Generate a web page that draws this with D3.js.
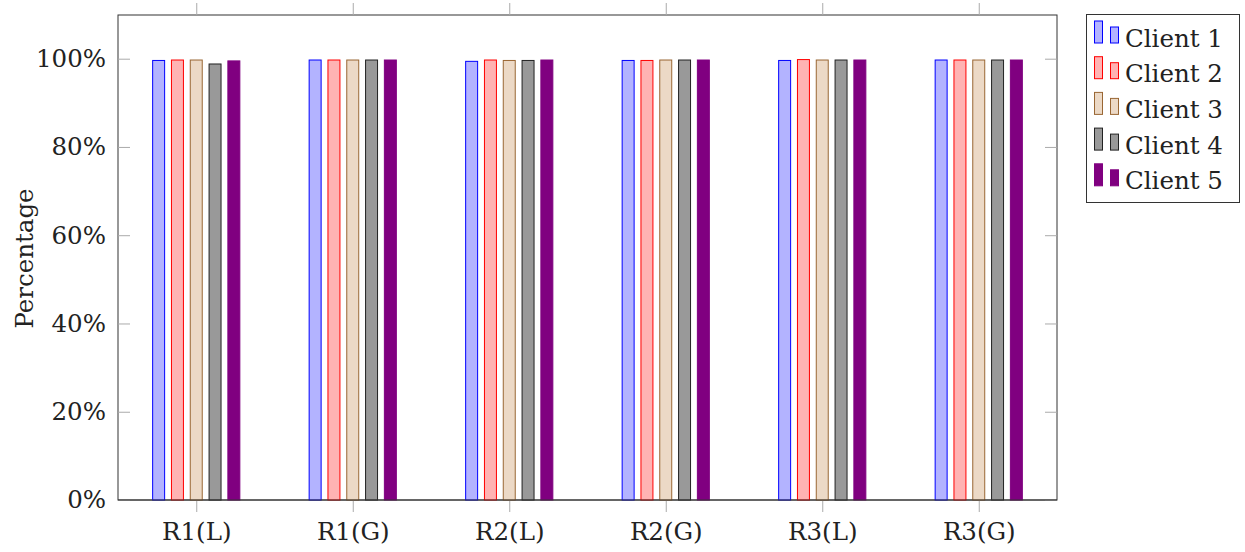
<!DOCTYPE html>
<html>
<head>
<meta charset="utf-8">
<script src="https://cdn.jsdelivr.net/npm/d3@7"></script>
<style>
  html, body { margin: 0; padding: 0; background: #fff; }
  svg { display: block; }
  text { font-family: "DejaVu Serif", "Liberation Serif", serif; fill: #222; }
</style>
</head>
<body>
<svg id="chart" width="1245" height="552"></svg>
<script>
// Rounds (x categories)
const rounds = ["R1(L)", "R1(G)", "R2(L)", "R2(G)", "R3(L)", "R3(G)"];
// Clients (series)
const clients = ["Client 1", "Client 2", "Client 3", "Client 4", "Client 5"];
// Percentage per client, one value per round
const client1 = [99.6, 99.7, 99.4, 99.6, 99.6, 99.7];
const client2 = [99.7, 99.7, 99.7, 99.6, 99.8, 99.7];
const client3 = [99.7, 99.7, 99.6, 99.7, 99.7, 99.7];
const client4 = [98.8, 99.7, 99.6, 99.7, 99.7, 99.7];
const client5 = [99.5, 99.7, 99.7, 99.7, 99.7, 99.7];
const yTicks = [0, 20, 40, 60, 80, 100];

const series = [client1, client2, client3, client4, client5];
const fills   = ["#b3b3ff", "#ffb3b3", "#ecd9c6", "#999999", "#800080"];
const strokes = ["#0000ff", "#ff0000", "#996633", "#222222", "#800080"];

const FONT = '"DejaVu Serif", "Liberation Serif", serif';
const FS = 24.5;

const svg = d3.select("#chart");
const plotL = 118, plotR = 1057, plotT = 15, plotB = 500;

const x = d3.scalePoint().domain(rounds).range([plotL, plotR]).padding(0.5);
const inner = d3.scaleBand().domain(clients).range([-44.1, 44.1]).paddingInner(0.31).paddingOuter(0);
const y = d3.scaleLinear().domain([0, 109.9]).range([plotB, plotT]);

// Frame
svg.append("rect")
  .attr("x", plotL).attr("y", plotT)
  .attr("width", plotR - plotL).attr("height", plotB - plotT)
  .attr("fill", "none").attr("stroke", "#333").attr("stroke-width", 1);

// Y ticks (inside, both sides)
const yAxisL = d3.axisLeft(y).tickValues(yTicks).tickSize(-12).tickPadding(12).tickFormat(d => d + "%");
const gy = svg.append("g").attr("transform", `translate(${plotL},0)`).call(yAxisL);
gy.attr("font-family", FONT).attr("font-size", FS);
gy.select(".domain").remove();
gy.selectAll(".tick line").attr("stroke", "#aaa");
gy.selectAll(".tick text").attr("fill", "#222");

const yAxisR = d3.axisRight(y).tickValues(yTicks).tickSize(-12).tickFormat("");
const gyr = svg.append("g").attr("transform", `translate(${plotR},0)`).call(yAxisR);
gyr.select(".domain").remove();
gyr.selectAll(".tick line").attr("stroke", "#aaa");

// X ticks (outside, top and bottom)
const xAxisB = d3.axisBottom(x).tickSize(12).tickPadding(11);
const gx = svg.append("g").attr("transform", `translate(0,${plotB})`).call(xAxisB);
gx.attr("font-family", FONT).attr("font-size", FS);
gx.select(".domain").remove();
gx.selectAll(".tick line").attr("stroke", "#aaa");
gx.selectAll(".tick text").attr("fill", "#222");

const xAxisT = d3.axisTop(x).tickSize(12).tickFormat("");
const gxt = svg.append("g").attr("transform", `translate(0,${plotT})`).call(xAxisT);
gxt.select(".domain").remove();
gxt.selectAll(".tick line").attr("stroke", "#aaa");

// Bars
const data = [];
rounds.forEach((r, i) => clients.forEach((c, j) => data.push({ r, c, j, v: series[j][i] })));
svg.append("g").selectAll("rect").data(data).join("rect")
  .attr("x", d => x(d.r) + inner(d.c) + 0.5)
  .attr("y", d => y(d.v))
  .attr("width", inner.bandwidth() - 1)
  .attr("height", d => y(0) - y(d.v))
  .attr("fill", d => fills[d.j])
  .attr("stroke", d => strokes[d.j])
  .attr("stroke-width", 1);

// Bottom axis line drawn over the bars
svg.append("line").attr("x1", plotL).attr("x2", plotR).attr("y1", plotB).attr("y2", plotB)
  .attr("stroke", "#333");

// Y label
svg.append("text")
  .attr("transform", `translate(33,${(plotT + plotB) / 2 + 1}) rotate(-90)`)
  .attr("text-anchor", "middle")
  .attr("font-size", FS)
  .text("Percentage");

// Legend
const lg = svg.append("g");
lg.append("rect").attr("x", 1086.5).attr("y", 14.5).attr("width", 153).attr("height", 188)
  .attr("fill", "#fff").attr("stroke", "#333");
clients.forEach((c, j) => {
  const cy = 37 + j * 35.7;
  lg.append("rect").attr("x", 1094.5).attr("y", cy - 16).attr("width", 8).attr("height", 22)
    .attr("fill", fills[j]).attr("stroke", strokes[j]);
  lg.append("rect").attr("x", 1110.5).attr("y", cy - 10).attr("width", 8).attr("height", 16)
    .attr("fill", fills[j]).attr("stroke", strokes[j]);
  lg.append("text").attr("x", 1125).attr("y", cy + 9.5).attr("font-size", FS).text(c);
});
</script>
</body>
</html>
